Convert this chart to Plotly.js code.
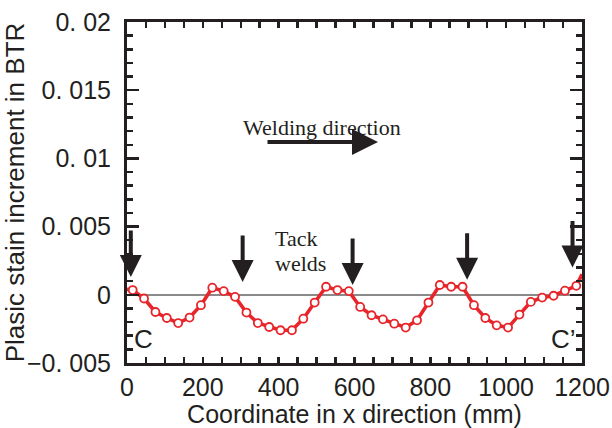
<!DOCTYPE html>
<html>
<head>
<meta charset="utf-8">
<script src="https://cdn.plot.ly/plotly-3.0.1.min.js"></script>
<style>html,body{margin:0;padding:0;background:#fff;}#chart{width:612px;height:428px;}</style>
</head>
<body>
<div id="chart"></div>
<script>
// Sample positions along the weld line (mm) and plastic strain increment
const xPos = [15, 45, 75, 105, 135, 165, 195, 225, 255, 285,
              315, 345, 375, 405, 435, 465, 495, 525, 555, 585,
              615, 645, 675, 705, 735, 765, 795, 825, 855, 885,
              915, 945, 975, 1005, 1035, 1065, 1095, 1125, 1155, 1185];
const strain = [0.00035, -0.00027, -0.00126, -0.0017, -0.00207, -0.00167, -0.00076, 0.00052, 0.00027, -0.00015,
                -0.0013, -0.00207, -0.00236, -0.0026, -0.0026, -0.00175, -0.00057, 0.00059, 0.00035, 0.00027,
                -0.00089, -0.0015, -0.0018, -0.00212, -0.0024, -0.00187, -0.00057, 0.00072, 0.00059, 0.00059,
                -0.00076, -0.0017, -0.00224, -0.0024, -0.00145, -0.00052, -0.0002, -0.00007, 0.0003, 0.00066];
// curve continues to the plate edges
const edgeX = [0, 1200];
const edgeStrain = [0.0004, 0.0015];

// tack weld positions (mm) and arrow tip heights
const tackX = [10, 305, 595, 897, 1175];
const tackTipY = [0.0013, 0.00094, 0.00072, 0.0011, 0.002];

const xTicks = [0, 200, 400, 600, 800, 1000, 1200];
const yTicks = [-0.005, 0, 0.005, 0.01, 0.015, 0.02];
const yTickText = ['\u22120. 005', '0', '0. 005', '0. 01', '0. 015', '0. 02'];

const RED = '#e8252a';
const INK = '#231f20';
const numFont = 'Liberation Sans Narrow, Arial Narrow, Liberation Sans, sans-serif';

const lineX = [edgeX[0]].concat(xPos, [edgeX[1]]);
const lineY = [edgeStrain[0]].concat(strain, [edgeStrain[1]]);

const traces = [
  {x: lineX, y: lineY, mode: 'lines', type: 'scatter',
   line: {color: RED, width: 3.6}, hoverinfo: 'skip'},
  {x: xPos, y: strain, mode: 'markers', type: 'scatter',
   marker: {symbol: 'circle', size: 8, color: '#ffffff', line: {color: RED, width: 1.8}}}
];

const annotations = [];
tackX.forEach((tx, i) => {
  annotations.push({x: tx, y: tackTipY[i], xref: 'x', yref: 'y', text: '',
    showarrow: true, arrowhead: 2, arrowsize: 1.1, arrowwidth: 4, arrowcolor: INK,
    ax: 0, ay: -48});
});
annotations.push({x: 662, y: 0.0112, xref: 'x', yref: 'y', text: '',
  showarrow: true, arrowhead: 2, arrowsize: 1.3, arrowwidth: 4, arrowcolor: INK,
  ax: -112, ay: 0});
const serif = {family: 'Liberation Serif, Times New Roman, serif', size: 22, color: INK};
annotations.push({x: 514, y: 0.01223, xref: 'x', yref: 'y', text: 'Welding direction',
  showarrow: false, font: serif});
annotations.push({x: 385, y: 0.00416, xref: 'x', yref: 'y', text: 'Tack', xanchor: 'left',
  showarrow: false, font: serif});
annotations.push({x: 385, y: 0.00233, xref: 'x', yref: 'y', text: 'welds', xanchor: 'left',
  showarrow: false, font: serif});
const cFont = {family: 'Liberation Sans, Arial, sans-serif', size: 26, color: INK};
annotations.push({x: 44, y: -0.00325, xref: 'x', yref: 'y', text: 'C', showarrow: false, font: cFont});
annotations.push({x: 1150, y: -0.00325, xref: 'x', yref: 'y', text: 'C\u2019', showarrow: false, font: cFont});

const layout = {
  width: 612, height: 428,
  margin: {l: 127, r: 30, t: 22, b: 65},
  paper_bgcolor: '#ffffff', plot_bgcolor: '#ffffff',
  showlegend: false,
  xaxis: {
    range: [0, 1200], tickvals: xTicks, ticktext: xTicks.map(String),
    ticks: 'inside', ticklen: 6, tickwidth: 2.5, tickcolor: INK,
    minor: {dtick: 50, ticks: 'inside', ticklen: 6, tickwidth: 2.5, tickcolor: INK},
    showline: true, linewidth: 3, linecolor: INK, mirror: 'allticks',
    showgrid: false, zeroline: false,
    tickfont: {family: numFont, size: 25, color: INK},
    title: {text: 'Coordinate in x direction (mm)', standoff: 4,
            font: {family: 'Liberation Sans, Arial, sans-serif', size: 25, color: INK}},
    automargin: false
  },
  yaxis: {
    range: [-0.005, 0.02], tickvals: yTicks, ticktext: yTickText,
    ticks: 'inside', ticklen: 12, tickwidth: 2.5, tickcolor: INK,
    minor: {dtick: 0.001, ticks: 'inside', ticklen: 6, tickwidth: 2.5, tickcolor: INK},
    showline: true, linewidth: 3, linecolor: INK, mirror: 'allticks',
    showgrid: false, zeroline: true, zerolinecolor: '#8a8a8a', zerolinewidth: 1.5,
    tickfont: {family: numFont, size: 25, color: INK},
    ticklabelstandoff: 8,
    title: {text: 'Plasic stain increment in BTR', standoff: 2,
            font: {family: 'Liberation Sans, Arial, sans-serif', size: 26, color: INK}},
    automargin: false
  },
  annotations: annotations
};

Plotly.newPlot('chart', traces, layout, {staticPlot: true, displayModeBar: false});
</script>
</body>
</html>
